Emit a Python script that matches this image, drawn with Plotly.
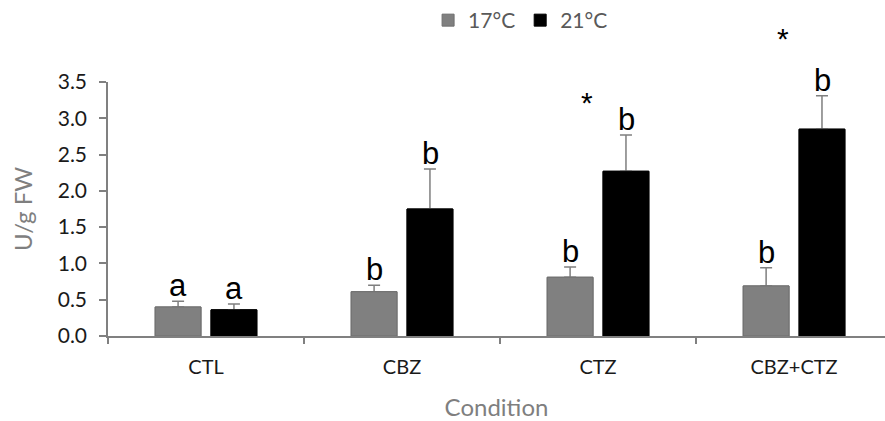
import plotly.graph_objects as go

categories = ["CTL", "CBZ", "CTZ", "CBZ+CTZ"]
t17 = [0.40, 0.61, 0.81, 0.69]
t17_err = [0.08, 0.09, 0.14, 0.25]
t21 = [0.36, 1.75, 2.27, 2.85]
t21_err = [0.08, 0.55, 0.50, 0.46]
letters17 = ["a", "b", "b", "b"]
letters21 = ["a", "b", "b", "b"]
stars = ["", "", "*", "*"]
star_y = [None, None, 3.22, 4.1]
y_ticks = [0.0, 0.5, 1.0, 1.5, 2.0, 2.5, 3.0, 3.5]
Y_MAX = 3.5

FONT = "Lato"
GRAY = "#808080"
ERR = dict(color="#7f7f7f", thickness=1.5, width=6)

fig = go.Figure()
# bars with error bars
fig.add_trace(go.Bar(
    name="17°C", x=categories, y=t17, offsetgroup="a",
    marker=dict(color=GRAY, line=dict(color="#6f6f6f", width=1)),
    error_y=dict(type="data", array=t17_err, arrayminus=[0]*4, symmetric=False, **ERR),
))
fig.add_trace(go.Bar(
    name="21°C", x=categories, y=t21, offsetgroup="b",
    marker=dict(color="#000000", line=dict(color="#000000", width=1)),
    error_y=dict(type="data", array=t21_err, arrayminus=[0]*4, symmetric=False, **ERR),
))
# redraw bars on top to hide the lower error-bar caps
fig.add_trace(go.Bar(
    name="17°C", x=categories, y=t17, offsetgroup="a", showlegend=False, hoverinfo="skip",
    marker=dict(color=GRAY, line=dict(color="#6f6f6f", width=1)),
))
fig.add_trace(go.Bar(
    name="21°C", x=categories, y=t21, offsetgroup="b", showlegend=False, hoverinfo="skip",
    marker=dict(color="#000000", line=dict(color="#000000", width=1)),
))

ann = []
for i, c in enumerate(categories):
    ann.append(dict(x=c, y=t17[i] + t17_err[i], xref="x", yref="y", text=letters17[i],
                    showarrow=False, xshift=-28, yanchor="bottom", yshift=-4,
                    font=dict(family="Liberation Sans", size=31, color="#000000")))
    ann.append(dict(x=c, y=t21[i] + t21_err[i], xref="x", yref="y", text=letters21[i],
                    showarrow=False, xshift=28, yanchor="bottom", yshift=-4,
                    font=dict(family="Liberation Sans", size=31, color="#000000")))
    if stars[i]:
        ann.append(dict(x=c, y=star_y[i] / Y_MAX, xref="x", yref="paper", text=stars[i],
                        showarrow=False, xshift=-11, yanchor="middle",
                        font=dict(family="Liberation Sans", size=30, color="#000000")))

fig.update_layout(
    width=885, height=421,
    margin=dict(l=108, r=0, t=82, b=85),
    paper_bgcolor="white", plot_bgcolor="white",
    barmode="group", bargap=0.43, bargroupgap=0.18,
    font=dict(family=FONT, color="#404040"),
    showlegend=True,
    legend=dict(orientation="h", x=0.531, xanchor="center", y=1.0, yref="container",
                yanchor="top", font=dict(family=FONT, size=21, color="#595959"),
                itemwidth=30, traceorder="normal"),
    annotations=ann,
)
fig.update_xaxes(
    type="category", range=[-0.5, 3.464],
    showline=True, linecolor=GRAY, linewidth=1.5,
    ticks="outside", tickson="boundaries", ticklen=6, tickcolor=GRAY, tickwidth=1.5,
    ticklabelstandoff=12,
    tickfont=dict(family=FONT, size=20, color="#1a1a1a"),
    title=dict(text="Condition", font=dict(family=FONT, size=24, color="#7f7f7f"), standoff=22),
    showgrid=False, zeroline=False,
)
fig.update_yaxes(
    range=[0, Y_MAX], tickvals=y_ticks, tickformat=".1f",
    showline=True, linecolor=GRAY, linewidth=1.5,
    ticks="outside", ticklen=7, tickcolor=GRAY, tickwidth=1.5,
    ticklabelstandoff=8,
    tickfont=dict(family=FONT, size=21, color="#1a1a1a"),
    title=dict(text="U/g FW", font=dict(family=FONT, size=24, color="#7f7f7f"), standoff=18),
    showgrid=False, zeroline=False,
)

fig.write_html("out.html")
